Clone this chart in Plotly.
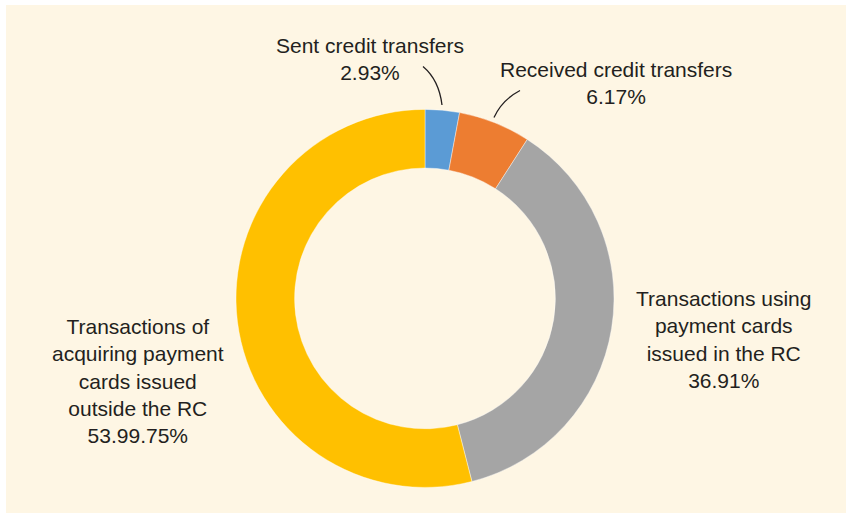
import plotly.graph_objects as go

W, H = 846, 513

categories = [
    "Sent credit transfers",
    "Received credit transfers",
    "Transactions using payment cards issued in the RC",
    "Transactions of acquiring payment cards issued outside the RC",
]
values = [2.93, 6.17, 36.91, 53.99]
value_labels = ["2.93%", "6.17%", "36.91%", "53.99.75%"]
label_texts = [
    "Sent credit transfers",
    "Received credit transfers",
    "Transactions using<br>payment cards<br>issued in the RC",
    "Transactions of<br>acquiring payment<br>cards issued<br>outside the RC",
]
colors = ["#5B9BD5", "#ED7D31", "#A5A5A5", "#FFC000"]

BG = "#FEF6E4"
TXT = "#231F20"
FONT = "Liberation Sans, Arial, sans-serif"


def px(x):
    return x / W


def py(y):
    return 1 - y / H


cx, cy, r = 425, 298.4, 189

fig = go.Figure()
fig.add_trace(go.Pie(
    labels=categories,
    values=values,
    sort=False,
    direction="clockwise",
    rotation=0,
    hole=0.69,
    marker=dict(colors=colors, line=dict(color="#FFFFFF", width=0.4)),
    textinfo="none",
    hoverinfo="label+percent",
    showlegend=False,
    domain=dict(x=[px(cx - r), px(cx + r)], y=[py(cy + r), py(cy - r)]),
))

# label anchor positions (pixels)
label_pos = [(370, 58.5), (616, 83.5), (723, 339), (138, 380.5)]
annotations = []
for txt, val, (lx, ly) in zip(label_texts, value_labels, label_pos):
    annotations.append(dict(
        x=px(lx), y=py(ly), xref="paper", yref="paper",
        text=f"{txt}<br>{val}", showarrow=False, align="center",
        xanchor="center", yanchor="middle",
        font=dict(family=FONT, size=21, color=TXT),
    ))


def curve(p0, c, p1):
    return (f"M {px(p0[0])},{py(p0[1])} Q {px(c[0])},{py(c[1])} "
            f"{px(p1[0])},{py(p1[1])}")


shapes = [
    dict(type="rect", xref="paper", yref="paper", x0=px(6), x1=1, y0=0, y1=py(5),
         fillcolor=BG, line=dict(width=0), layer="below"),
    dict(type="path", xref="paper", yref="paper",
         path=curve((423, 66.5), (439, 80), (442, 105)),
         line=dict(color=TXT, width=1.3)),
    dict(type="path", xref="paper", yref="paper",
         path=curve((520, 90.5), (502, 100), (494, 117.5)),
         line=dict(color=TXT, width=1.3)),
]

fig.update_layout(
    width=W, height=H,
    margin=dict(l=0, r=0, t=0, b=0),
    paper_bgcolor="#FFFFFF",
    annotations=annotations,
    shapes=shapes,
    font=dict(family=FONT, color=TXT),
)

fig.write_html(
    "out.html",
    config={"displayModeBar": False},
    post_script="document.body.style.margin='0px';document.body.style.overflow='hidden';",
)
